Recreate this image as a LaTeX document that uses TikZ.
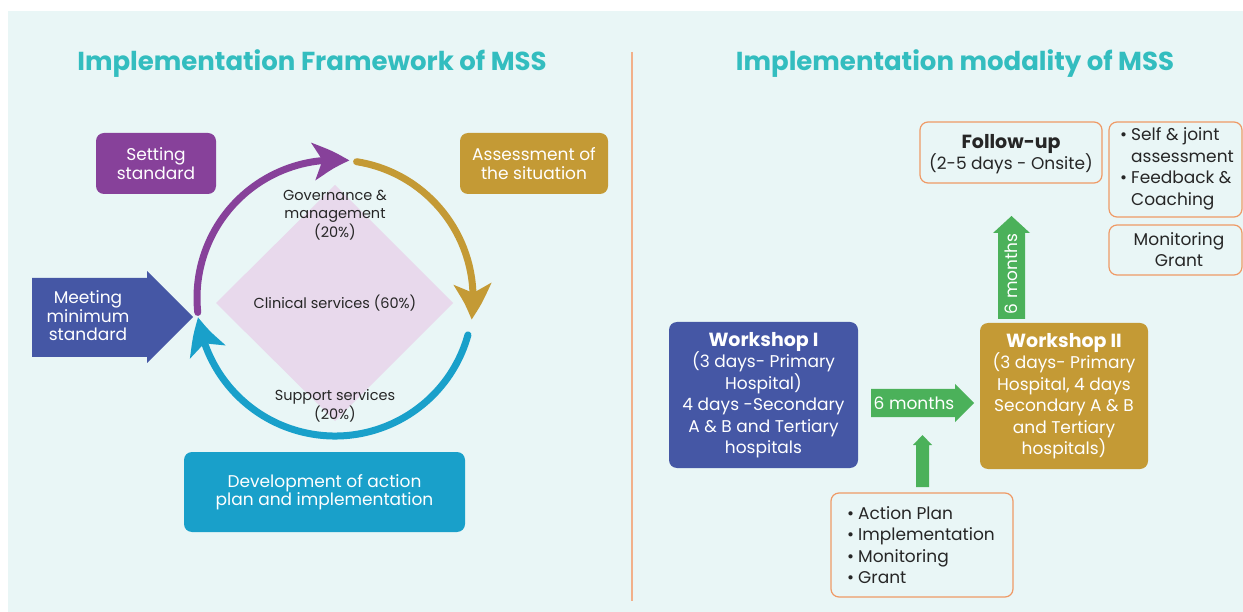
\documentclass[tikz,border=0pt]{standalone}
\usepackage{fontspec}
\setmainfont{Poppins}
\usetikzlibrary{arrows.meta,bending}
\definecolor{bgc}{HTML}{E9F6F6}
\definecolor{titlec}{HTML}{33BDBF}
\definecolor{purplec}{HTML}{87419A}
\definecolor{goldc}{HTML}{C49A35}
\definecolor{cyanc}{HTML}{19A0CA}
\definecolor{navyc}{HTML}{4557A5}
\definecolor{pinkc}{HTML}{E8D9EC}
\definecolor{greenc}{HTML}{4BB15A}
\definecolor{orangec}{HTML}{EF9A66}
\definecolor{dividerc}{HTML}{F2B08A}
\definecolor{textc}{HTML}{262626}
\tikzset{
  filledbox/.style={rounded corners=8pt, inner sep=0pt, align=center, text=white,
    font=\fontsize{17}{18.5}\selectfont},
  wsbox/.style={rounded corners=8pt, inner sep=0pt, align=center, text=white,
    font=\fontsize{17}{21.5}\selectfont},
  outbox/.style={rounded corners=8pt, draw=orangec, line width=1.2pt, fill=bgc, inner sep=0pt},
  plaintext/.style={inner sep=0pt, align=center, text=textc, font=\fontsize{14.5}{18.5}\selectfont},
  listtext/.style={inner sep=0pt, align=left, text=textc, font=\fontsize{17}{21.5}\selectfont},
  titletext/.style={inner sep=0pt, text=titlec, font=\fontsize{26}{30}\selectfont\bfseries},
  cyclearc/.style={line width=7pt, line cap=round,
    -{Stealth[length=36pt,width=37pt,inset=9pt,bend]}}
}
\newcommand{\bul}{\makebox[11pt][l]{•}}
\begin{document}
\begin{tikzpicture}[x=1pt,y=-1pt]
\useasboundingbox (0,0) rectangle (1243,612);
\fill[white] (0,0) rectangle (1243,612);
\fill[bgc] (8,11) rectangle (1243,612);
% titles
\node[titletext] (t1) at (312,63.5) {Implementation Framework of MSS};
\node[titletext] (t2) at (955,63.5) {Implementation modality of MSS};
% divider
\coordinate (dtop) at (632,52);
\coordinate (dbot) at (632,601);
\draw[dividerc, line width=1.6pt] (dtop) -- (dbot);

% ---------- left: framework ----------
\coordinate (C) at (335,298);
\fill[pinkc] (335,185) -- (453,303) -- (335,421) -- (216,303) -- cycle;
\draw[cyclearc, purplec] (C) ++(-186:138) arc[start angle=-186, end angle=-84, radius=138];
\draw[cyclearc, goldc] (C) ++(-81:138) arc[start angle=-81, end angle=9, radius=138];
\draw[cyclearc, cyanc] (C) ++(15.5:138) arc[start angle=15.5, end angle=172, radius=138];

\node[plaintext] (gov) at (335,215) {Governance \&\\management\\(20\%)};
\node[plaintext] (clin) at (335,303) {Clinical services (60\%)};
\node[plaintext] (supp) at (335,406) {Support services\\(20\%)};

\node[filledbox, fill=purplec, minimum width=120pt, minimum height=61pt] (set) at (156,163.5) {Setting\\standard};
\node[filledbox, fill=goldc, minimum width=148pt, minimum height=61pt] (ass) at (534,163.5) {Assessment of\\the situation};
\node[filledbox, fill=cyanc, minimum width=281pt, minimum height=80pt] (dev) at (324.5,492) {Development of action\\plan and implementation};

\fill[navyc] (32,278) -- (147,278) -- (147,271) -- (193,317) -- (147,363) -- (147,357) -- (32,357) -- cycle;
\node[filledbox] (meet) at (88,316) {Meeting\\minimum\\standard};

% ---------- right: modality ----------
\node[wsbox, fill=navyc, minimum width=189pt, minimum height=146pt] (w1) at (763.5,395)
  {{\bfseries\fontsize{19}{21.5}\selectfont Workshop I}\\(3 days- Primary\\Hospital)\\4 days -Secondary\\A \& B and Tertiary\\hospitals};
\node[wsbox, fill=goldc, minimum width=168pt, minimum height=146pt] (w2) at (1064,396)
  {{\bfseries\fontsize{19}{21.5}\selectfont Workshop II}\\(3 days- Primary\\Hospital, 4 days\\Secondary A \& B\\and Tertiary\\hospitals)};

% horizontal green arrow
\fill[greenc] (871,389) -- (955,389) -- (955,384) -- (974,403) -- (955,422) -- (955,417) -- (871,417) -- cycle;
\node[inner sep=0pt, text=white, font=\fontsize{17}{20}\selectfont] (m1) at (914,403) {6 months};

% small up arrow
\fill[greenc] (916,487) -- (916,445) -- (913,445) -- (922.5,435) -- (932,445) -- (929,445) -- (929,487) -- cycle;

% bottom list box
\node[outbox, minimum width=182pt, minimum height=104pt] (act) at (922,545) {};
\node[listtext, anchor=west] (actt) at (847,545)
  {\bul Action Plan\\\bul Implementation\\\bul Monitoring\\\bul Grant};

% vertical green arrow
\fill[greenc] (998,319) -- (998,233) -- (993,233) -- (1011.5,216) -- (1030,233) -- (1025,233) -- (1025,319) -- cycle;
\node[inner sep=0pt, text=white, rotate=90, font=\fontsize{17}{20}\selectfont] (m2) at (1011.5,274) {6 months};

% follow-up
\node[outbox, minimum width=182pt, minimum height=61pt] (fol) at (1011,152.5) {};
\node[inner sep=0pt, align=center, text=textc, font=\fontsize{17}{21}\selectfont] (folt) at (1011,154)
  {{\bfseries\fontsize{19}{21}\selectfont Follow-up}\\(2-5 days - Onsite)};

% right boxes
\node[outbox, minimum width=133pt, minimum height=95pt] (sj) at (1175.5,169.5) {};
\node[listtext, anchor=west] (sjt) at (1120,169)
  {\bul Self \& joint\\\hspace*{11pt}assessment\\\bul Feedback \&\\\hspace*{11pt}Coaching};
\node[outbox, minimum width=133pt, minimum height=50pt] (mg) at (1175.5,250) {};
\node[inner sep=0pt, align=center, text=textc, font=\fontsize{17}{21}\selectfont] (mgt) at (1179,250) {Monitoring\\Grant};
\end{tikzpicture}
\end{document}
